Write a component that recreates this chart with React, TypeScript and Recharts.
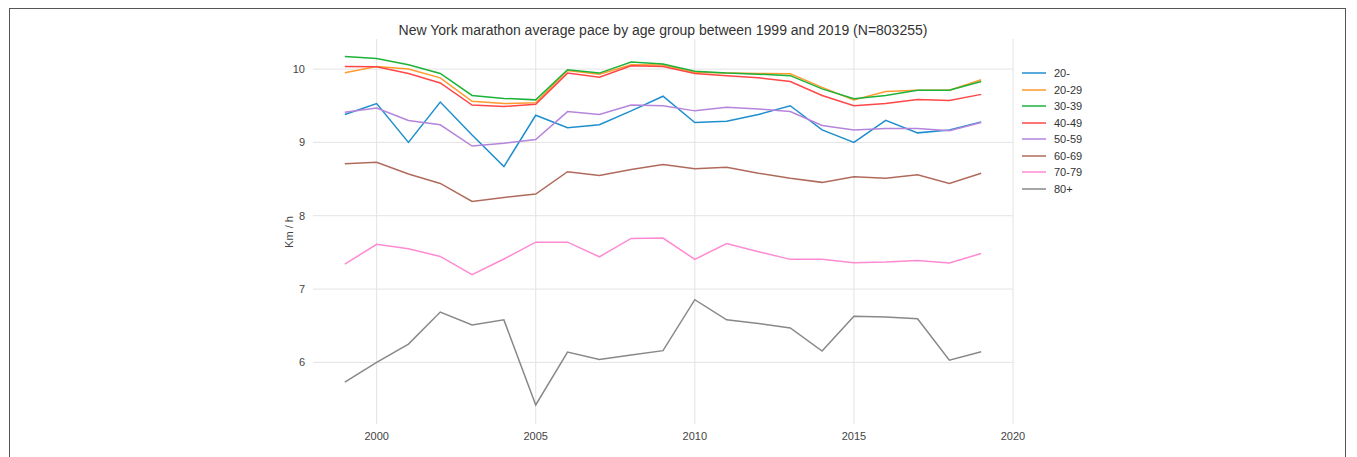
import React from 'react';
import { LineChart, Line, XAxis, YAxis, ReferenceLine } from 'recharts';

const years = [1999, 2000, 2001, 2002, 2003, 2004, 2005, 2006, 2007, 2008, 2009, 2010, 2011, 2012, 2013, 2014, 2015, 2016, 2017, 2018, 2019];

const under20 = [9.38, 9.53, 9.0, 9.55, 9.1, 8.67, 9.37, 9.2, 9.24, 9.43, 9.63, 9.27, 9.29, 9.38, 9.5, 9.17, 9.0, 9.3, 9.13, 9.17, 9.28];
const age20 = [9.95, 10.035, 10.0, 9.88, 9.56, 9.53, 9.54, 9.98, 9.93, 10.06, 10.055, 9.955, 9.945, 9.94, 9.935, 9.75, 9.58, 9.695, 9.71, 9.71, 9.855];
const age30 = [10.17, 10.145, 10.06, 9.94, 9.64, 9.6, 9.58, 9.99, 9.945, 10.095, 10.07, 9.97, 9.945, 9.93, 9.91, 9.73, 9.595, 9.64, 9.71, 9.71, 9.83];
const age40 = [10.035, 10.03, 9.94, 9.81, 9.51, 9.49, 9.52, 9.945, 9.89, 10.045, 10.035, 9.94, 9.91, 9.88, 9.83, 9.64, 9.5, 9.53, 9.585, 9.57, 9.655];
const age50 = [9.41, 9.47, 9.3, 9.24, 8.95, 8.99, 9.04, 9.42, 9.38, 9.51, 9.5, 9.43, 9.48, 9.455, 9.42, 9.23, 9.17, 9.19, 9.19, 9.16, 9.27];
const age60 = [8.71, 8.73, 8.57, 8.44, 8.195, 8.25, 8.295, 8.6, 8.55, 8.63, 8.7, 8.64, 8.66, 8.58, 8.51, 8.455, 8.53, 8.51, 8.56, 8.44, 8.58];
const age70 = [7.34, 7.61, 7.55, 7.445, 7.195, 7.41, 7.64, 7.64, 7.44, 7.69, 7.695, 7.405, 7.62, 7.51, 7.405, 7.405, 7.36, 7.37, 7.39, 7.355, 7.485];
const age80 = [5.73, 6.0, 6.25, 6.686, 6.51, 6.58, 5.42, 6.14, 6.04, 6.1, 6.16, 6.855, 6.58, 6.53, 6.47, 6.155, 6.63, 6.62, 6.595, 6.03, 6.145];

const seriesNames = ['20-', '20-29', '30-39', '40-49', '50-59', '60-69', '70-79', '80+'];
const seriesValues = [under20, age20, age30, age40, age50, age60, age70, age80];
const seriesColors = ['#1f8ecf', '#ff9a2e', '#1db33a', '#ff4747', '#b584dc', '#b06a5c', '#ff8ad2', '#888888'];

const xTicks = [2000, 2005, 2010, 2015, 2020];
const yTicks = [6, 7, 8, 9, 10];

const title = 'New York marathon average pace by age group between 1999 and 2019 (N=803255)';
const yLabel = 'Km / h';

const data = years.map((y, i) => {
  const row: Record<string, number> = { year: y };
  seriesNames.forEach((n, k) => {
    row[n] = seriesValues[k][i];
  });
  return row;
});

const FONT = '"Liberation Sans", Arial, sans-serif';
const GRID = '#e3e3e3';

export default function App() {
  return (
    <div style={{ position: 'relative', width: 1357, height: 457, marginLeft: -8, marginTop: -8, overflow: 'hidden', background: '#fff' }}>
      <div style={{ position: 'absolute', left: 9, top: 8, width: 1337, height: 470, border: '1px solid #555', boxSizing: 'border-box' }} />
      <div style={{ position: 'absolute', left: 313, width: 700, top: 22, textAlign: 'center', fontFamily: FONT, fontSize: 14, color: '#333' }}>{title}</div>
      <div style={{ position: 'absolute', left: 289, top: 232, transform: 'translate(-50%, -50%) rotate(-90deg)', fontFamily: FONT, fontSize: 11, color: '#444', whiteSpace: 'nowrap' }}>{yLabel}</div>
      <div style={{ position: 'absolute', left: 1022, top: 65, fontFamily: FONT, fontSize: 11, color: '#333' }}>
        {seriesNames.map((n, k) => (
          <div key={n} style={{ display: 'flex', alignItems: 'center', height: 16.5 }}>
            <svg width={24} height={4} style={{ marginRight: 8 }}>
              <line x1={0} y1={2} x2={24} y2={2} stroke={seriesColors[k]} strokeWidth={1.5} />
            </svg>
            <span>{n}</span>
          </div>
        ))}
      </div>
      <div style={{ position: 'absolute', left: 0, top: 0 }}>
        <LineChart width={1357} height={457} data={data} margin={{ top: 39, right: 344, bottom: 13, left: 253 }}>
          <XAxis
            dataKey="year"
            type="number"
            domain={[1998, 2020]}
            ticks={xTicks}
            axisLine={false}
            tickLine={false}
            height={20}
            tick={{ fontSize: 11, fill: '#444', fontFamily: FONT }}
            tickMargin={2}
            allowDataOverflow
          />
          <YAxis
            type="number"
            domain={[5.16, 10.41]}
            ticks={yTicks}
            axisLine={false}
            tickLine={false}
            width={60}
            tick={{ fontSize: 11, fill: '#444', fontFamily: FONT }}
            tickMargin={2}
            allowDataOverflow
          />
          {yTicks.map((t) => (
            <ReferenceLine key={'y' + t} y={t} stroke={GRID} strokeWidth={1} />
          ))}
          {xTicks.map((t) => (
            <ReferenceLine key={'x' + t} x={t} stroke={GRID} strokeWidth={1} />
          ))}
          {seriesNames.map((n, k) => (
            <Line
              key={n}
              dataKey={n}
              stroke={seriesColors[k]}
              strokeWidth={1.5}
              dot={false}
              activeDot={false}
              isAnimationActive={false}
              type="linear"
            />
          ))}
        </LineChart>
      </div>
    </div>
  );
}
